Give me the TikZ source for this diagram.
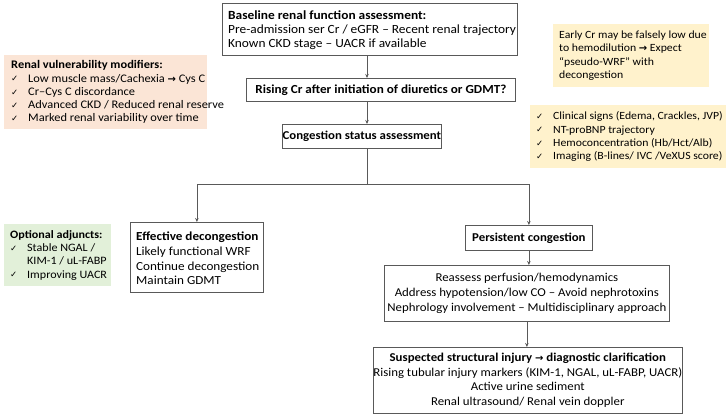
\documentclass[tikz,border=0pt]{standalone}
\usepackage{fontspec}
\setmainfont{Carlito}[FakeStretch=1.07]
\newfontfamily\symfont{DejaVu Sans}
\usetikzlibrary{arrows.meta}
\definecolor{salmon}{HTML}{FBE5D6}
\definecolor{lyellow}{HTML}{FFF2CC}
\definecolor{lgreen}{HTML}{E2F0D9}
\definecolor{bordergray}{HTML}{595959}
\newcommand\ck{\makebox[17pt][l]{\raisebox{0.2pt}{\symfont\fontsize{8.5}{8.5}\selectfont ✓}}}
\newcommand\rarr{{\symfont\bfseries\fontsize{10}{10}\selectfont →}}
\begin{document}
\begin{tikzpicture}[x=1pt,y=-1pt,
  mainbox/.style={draw=bordergray, line width=0.8pt, fill=white, inner sep=0pt,
    font=\fontsize{12}{14.6}\selectfont, anchor=north west},
  maintext/.style={inner sep=0pt, font=\fontsize{12}{14.6}\selectfont, align=left, anchor=west},
  sidebox/.style={inner sep=0pt, anchor=north west},
  sidetext/.style={inner sep=0pt, font=\fontsize{11}{13.3}\selectfont, align=left, anchor=west},
  conn/.style={draw=bordergray, line width=0.8pt},
  arr/.style={conn, -{Stealth[length=4pt,width=3.5pt]}}]
\useasboundingbox (0,0) rectangle (728,417);

% main flow
\node[mainbox, minimum width=295pt, minimum height=52pt] (base) at (222,3) {};
\node[maintext, font=\fontsize{12.5}{14.2}\selectfont] (baset) at ([xshift=6pt,yshift=-0.5pt]base.west)
  {\textbf{Baseline renal function assessment:}\\
   Pre-admission ser Cr / eGFR – Recent renal trajectory\\
   Known CKD stage – UACR if available};
\node[mainbox, minimum width=269pt, minimum height=23pt, align=center,
  font=\fontsize{12.3}{14}\selectfont] (rise) at (246,78)
  {\textbf{Rising Cr after initiation of diuretics or GDMT?}};
\node[mainbox, minimum width=159pt, minimum height=24pt, align=center] (cong) at (282,124)
  {\textbf{Congestion status assessment}};
\node[mainbox, minimum width=133pt, minimum height=70pt] (eff) at (130,222) {};
\node[maintext, font=\fontsize{12.3}{14.8}\selectfont] (efft) at ([xshift=6pt,yshift=-1pt]eff.west)
  {\textbf{Effective decongestion}\\
   Likely functional WRF\\
   Continue decongestion\\
   Maintain GDMT};
\node[mainbox, minimum width=127pt, minimum height=25pt, align=center] (pers) at (465,225)
  {\textbf{Persistent congestion}};
\node[mainbox, minimum width=285pt, minimum height=56pt, align=center] (reas) at (384,265)
  {Reassess perfusion/hemodynamics\\
   Address hypotension/low CO – Avoid nephrotoxins\\
   Nephrology involvement – Multidisciplinary approach};
\node[mainbox, minimum width=305pt, minimum height=66pt, align=center] (susp) at (373,347)
  {\textbf{Suspected structural injury \rarr{} diagnostic clarification}\\
   Rising tubular injury markers (KIM-1, NGAL, uL-FABP, UACR)\\
   Active urine sediment\\
   Renal ultrasound/ Renal vein doppler};

% side boxes
\node[sidebox, fill=salmon, minimum width=203pt, minimum height=74pt] (vul) at (4,55) {};
\node[sidetext, font=\fontsize{11.6}{13.3}\selectfont] (vult) at ([xshift=7pt]vul.west)
  {\textbf{Renal vulnerability modifiers:}\\
   \ck Low muscle mass/Cachexia \rarr{} Cys C\\
   \ck Cr–Cys C discordance\\
   \ck Advanced CKD / Reduced renal reserve\\
   \ck Marked renal variability over time};
\node[sidebox, fill=lyellow, minimum width=156pt, minimum height=63pt] (early) at (553,24) {};
\node[sidetext] (earlyt) at ([xshift=6pt]early.west)
  {Early Cr may be falsely low due\\
   to hemodilution \rarr{} Expect\\
   “pseudo-WRF” with\\
   decongestion};
\node[sidebox, fill=lyellow, minimum width=196pt, minimum height=63pt] (signs) at (530,105) {};
\node[sidetext] (signst) at ([xshift=6pt]signs.west)
  {\ck Clinical signs (Edema, Crackles, JVP)\\
   \ck NT-proBNP trajectory\\
   \ck Hemoconcentration (Hb/Hct/Alb)\\
   \ck Imaging (B-lines/ IVC /VeXUS score)};
\node[sidebox, fill=lgreen, minimum width=107pt, minimum height=62pt] (adj) at (4,224) {};
\node[sidetext, font=\fontsize{11.3}{13.2}\selectfont] (adjt) at ([xshift=6pt]adj.west)
  {\textbf{Optional adjuncts:}\\
   \ck Stable NGAL /\\
   \hspace*{17pt}KIM-1 / uL-FABP\\
   \ck Improving UACR};

% connectors
\coordinate (j) at (367,184);
\draw[arr] (base.south -| j) -- (rise.north -| j);
\draw[arr] (rise.south -| j) -- (cong.north -| j);
\draw[conn] (cong.south -| j) -- (j);
\draw[arr] (j) -| (eff.north);
\draw[arr] (j) -| (pers.north);
\draw[arr] (pers.south) -- (reas.north -| pers.south);
\draw[arr] (reas.south) -- (susp.north -| reas.south);
\end{tikzpicture}
\end{document}
